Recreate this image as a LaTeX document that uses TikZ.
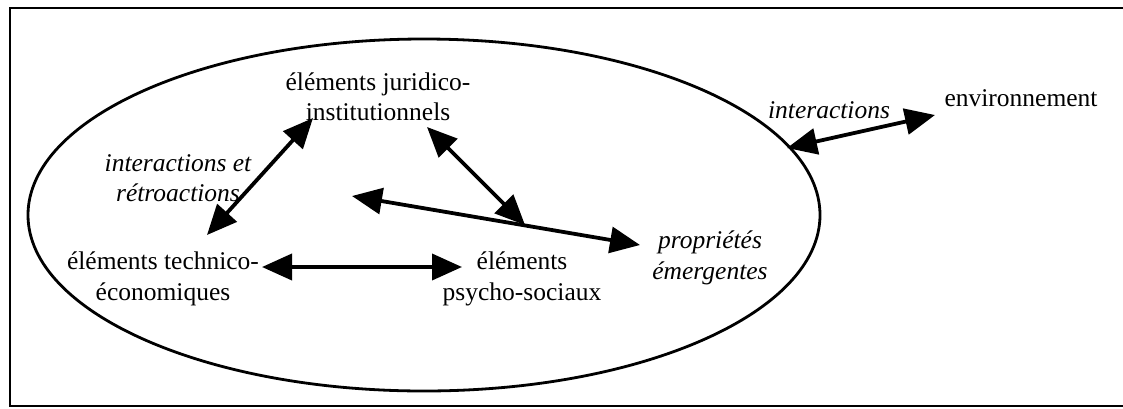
\documentclass[tikz,border=0pt]{standalone}
\usepackage{fontspec}
\setmainfont{Liberation Serif}
\usetikzlibrary{arrows.meta}
\begin{document}
\begin{tikzpicture}[x=1pt,y=-1pt,
  lbl/.style={inner sep=0pt,align=center,font=\fontsize{25.5}{30.5}\selectfont},
  ilbl/.style={lbl,font=\fontsize{25.5}{30.5}\selectfont\itshape},
  link/.style={line width=3.8pt,{Triangle[length=30pt,width=26pt]}-{Triangle[length=30pt,width=26pt]}}]
\useasboundingbox (0,0) rectangle (1123,408);
% open frame: no right edge
\draw[line width=2.4pt] (1123,8) -- (10,8) -- (10,406) -- (1123,406);
% system boundary
\draw[line width=2.8pt] (424,215) ellipse [x radius=396, y radius=176];
% elements
\node[lbl] (ji) at (378,97) {éléments juridico-\\institutionnels};
\node[lbl] (te) at (163,279) {éléments technico-\\économiques};
\node[lbl] (ps) at (522,279) {éléments\\psycho-sociaux};
\node[ilbl] (pe) at (710,258) {propriétés\\émergentes};
\node[ilbl] (ir) at (178,178) {interactions et\\rétroactions};
\node[ilbl] (ia) at (829,110) {interactions};
\node[lbl] (env) at (1021,98) {environnement};
% arrow end points
\coordinate (teA) at (207,235);
\coordinate (jiA) at (313,118);
\coordinate (jiB) at (427,127);
\coordinate (psB) at (525,225);
\coordinate (lc) at (352,196);
\coordinate (peA) at (640,245);
\coordinate (teC) at (262,267);
\coordinate (psC) at (462,267);
\coordinate (bd) at (787,148);
\coordinate (envA) at (935,115);
% connectors
\draw[link] (teA) -- (jiA);
\draw[link] (jiB) -- (psB);
\draw[link] (lc) -- (peA);
\draw[link] (teC) -- (psC);
\draw[link] (bd) -- (envA);
\end{tikzpicture}
\end{document}
